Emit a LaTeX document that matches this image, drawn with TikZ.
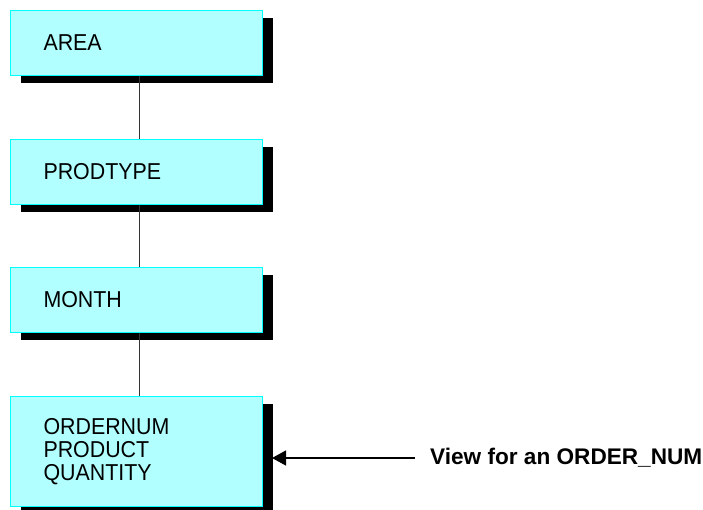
\documentclass[tikz,border=0pt]{standalone}
\usepackage{fontspec}
\setmainfont{Liberation Sans}
\newfontfamily\boxfont[FakeStretch=0.93]{Liberation Sans}
\usetikzlibrary{shadows,arrows.meta}
\definecolor{boxfill}{HTML}{B2FFFF}
\definecolor{boxline}{HTML}{00FFFF}
\definecolor{conn}{HTML}{333333}
\tikzset{
  levelbox/.style={draw=boxline, line width=1pt, fill=boxfill,
    drop shadow={shadow xshift=10pt, shadow yshift=-7pt, fill=black, opacity=1},
    anchor=north west, minimum height=65pt, inner xsep=33pt, inner ysep=0pt,
    text width=186pt, align=left, font=\boxfont\fontsize{23}{23}\selectfont},
  link/.style={draw=conn, line width=1.3pt},
  arr/.style={draw=black, line width=1.3pt, -{Triangle[length=14pt,width=15pt]}},
  lbl/.style={anchor=west, inner sep=0pt, font=\bfseries\fontsize{22.6}{23}\selectfont}
}
\begin{document}
\begin{tikzpicture}[x=1pt,y=-1pt]
\useasboundingbox (0,0) rectangle (703,509);
\node[levelbox] (b1) at (10,10) {AREA};
\node[levelbox] (b2) at (10,139) {PRODTYPE};
\node[levelbox] (b3) at (10,267) {MONTH};
\node[levelbox, minimum height=110pt] (b4) at (10,396) {ORDERNUM\\PRODUCT\\QUANTITY};
\draw[link] ([xshift=3pt]b1.south) -- ([xshift=3pt]b2.north);
\draw[link] ([xshift=3pt]b2.south) -- ([xshift=3pt]b3.north);
\draw[link] ([xshift=3pt]b3.south) -- ([xshift=3pt]b4.north);
\node[lbl] (view) at (430,458) {View for an ORDER\_NUM};
\coordinate (tip) at (272,458);
\draw[arr] ([xshift=-15pt]view.west) -- (tip);
\end{tikzpicture}
\end{document}
